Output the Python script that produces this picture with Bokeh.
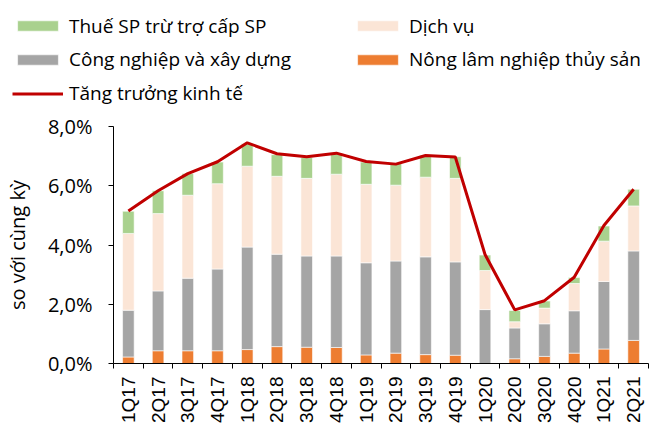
from bokeh.plotting import figure
from bokeh.layouts import column
from bokeh.models import (FixedTicker, Legend, LegendItem, ColumnDataSource, Range1d)
from bokeh.embed import file_html
from bokeh.resources import INLINE

quarters = ["1Q17", "2Q17", "3Q17", "4Q17", "1Q18", "2Q18", "3Q18", "4Q18",
            "1Q19", "2Q19", "3Q19", "4Q19", "1Q20", "2Q20", "3Q20", "4Q20",
            "1Q21", "2Q21"]
# contributions to growth, percentage points
agri = [0.22, 0.43, 0.43, 0.43, 0.47, 0.57, 0.55, 0.54, 0.29, 0.35, 0.30, 0.28,
        0.00, 0.16, 0.24, 0.35, 0.49, 0.78]
industry = [1.58, 2.02, 2.45, 2.76, 3.46, 3.12, 3.08, 3.09, 3.11, 3.11, 3.30, 3.15,
            1.82, 1.04, 1.10, 1.43, 2.28, 3.02]
services = [2.59, 2.61, 2.80, 2.88, 2.73, 2.63, 2.62, 2.76, 2.65, 2.56, 2.69, 2.82,
            1.32, 0.21, 0.53, 0.92, 1.36, 1.52]
tax = [0.75, 0.77, 0.73, 0.73, 0.76, 0.73, 0.70, 0.71, 0.75, 0.73, 0.74, 0.73,
       0.52, 0.38, 0.24, 0.20, 0.51, 0.56]
growth = [5.15, 5.83, 6.41, 6.81, 7.45, 7.08, 6.98, 7.10, 6.82, 6.73, 7.02, 6.97,
          3.68, 1.81, 2.12, 2.91, 4.66, 5.88]

series_names = ["Nông lâm nghiệp thủy sản", "Công nghiệp và xây dựng",
                "Dịch vụ", "Thuế SP trừ trợ cấp SP"]
line_name = "Tăng trưởng kinh tế"
y_ticks = [0, 2, 4, 6, 8]
y_tick_labels = ["0,0%", "2,0%", "4,0%", "6,0%", "8,0%"]
y_axis_title = "so với cùng kỳ"

colors = ["#ED7D31", "#A5A5A5", "#FBE5D6", "#A9D18E"]
line_color = "#C00000"
FONT = "Open Sans"
fields = ["agri", "industry", "services", "tax"]

xs = list(range(len(quarters)))
src = ColumnDataSource(dict(x=xs, agri=agri, industry=industry,
                            services=services, tax=tax, growth=growth))

# ---------------- main chart ----------------
p = figure(width=657, height=315, title=None,
           x_range=Range1d(-0.5, len(quarters) - 0.5),
           y_range=Range1d(y_ticks[0], y_ticks[-1]),
           output_backend="svg", toolbar_location=None,
           min_border_left=113, min_border_right=9,
           min_border_top=16, min_border_bottom=61)
p.frame_align = False
p.outline_line_color = None
p.xgrid.visible = False
p.ygrid.visible = False

bars = p.vbar_stack(fields, x="x", width=0.39,
                    color=colors, source=src, line_color="white", line_width=0.6)
ln = p.line(x="x", y="growth", source=src, line_color=line_color, line_width=3)

ya = p.yaxis[0]
ya.ticker = FixedTicker(ticks=y_ticks)
ya.major_label_overrides = {t: l for t, l in zip(y_ticks, y_tick_labels)}
ya.major_label_text_font = FONT
ya.major_label_text_font_size = "20px"
ya.major_label_text_color = "black"
ya.major_label_standoff = 16
ya.major_tick_out = 5
ya.major_tick_in = 0
ya.minor_tick_line_color = None
ya.axis_line_color = "black"
ya.major_tick_line_color = "black"
ya.axis_label = y_axis_title
ya.axis_label_text_font = FONT
ya.axis_label_text_font_size = "20px"
ya.axis_label_text_font_style = "normal"
ya.axis_label_text_color = "black"
ya.axis_label_standoff = 14

xa = p.xaxis[0]
xa.ticker = FixedTicker(ticks=xs, minor_ticks=[i - 0.5 for i in range(len(quarters) + 1)])
xa.major_label_overrides = {i: q for i, q in enumerate(quarters)}
xa.major_label_orientation = 3.14159265 / 2
xa.major_label_text_font = "Liberation Sans"
xa.major_label_text_font_size = "19px"
xa.major_label_text_color = "black"
xa.major_label_standoff = 8
xa.major_tick_line_color = None
xa.major_tick_out = 0
xa.major_tick_in = 0
xa.minor_tick_line_color = "black"
xa.minor_tick_out = 5
xa.minor_tick_in = 0
xa.axis_line_color = "black"

# ---------------- legend strip ----------------
lf = figure(width=657, height=110, title=None,
            x_range=p.x_range, y_range=p.y_range,
            output_backend="svg", toolbar_location=None,
            x_axis_location=None, y_axis_location=None,
            min_border_left=0, min_border_right=0, min_border_top=0, min_border_bottom=0)
lf.frame_align = False
lf.outline_line_color = None
lf.xgrid.visible = False
lf.ygrid.visible = False
# hidden proxies of the chart's series, used only to draw the legend keys
lr = lf.vbar_stack(fields, x="x", width=0.39, color=colors, source=src,
                   line_color="white", line_width=0.6, visible=False)
ll = lf.line(x="x", y="growth", source=src, line_color=line_color, line_width=3,
             visible=False)


def make_legend(items, loc):
    lg = Legend(items=items, orientation="horizontal", location=loc)
    lg.label_text_font = FONT
    lg.label_text_font_size = "19px"
    lg.label_text_color = "black"
    lg.glyph_width = 51
    lg.glyph_height = 13
    lg.label_height = 26
    lg.label_width = 270
    lg.label_standoff = 6
    lg.spacing = 13
    lg.padding = 0
    lg.margin = 0
    lg.border_line_color = None
    lg.background_fill_alpha = 0
    lg.inactive_fill_alpha = 0
    lg.click_policy = "none"
    return lg


legs = [
    make_legend([LegendItem(label=series_names[3], renderers=[lr[3]]),
                 LegendItem(label=series_names[2], renderers=[lr[2]])], (12, 71.5)),
    make_legend([LegendItem(label=series_names[1], renderers=[lr[1]]),
                 LegendItem(label=series_names[0], renderers=[lr[0]])], (12, 38)),
    make_legend([LegendItem(label=line_name, renderers=[ll])], (12, 4)),
]
for lg in legs:
    lf.add_layout(lg, "center")

layout = column(lf, p, spacing=0)
open("out.html", "w").write(file_html(layout, INLINE))
